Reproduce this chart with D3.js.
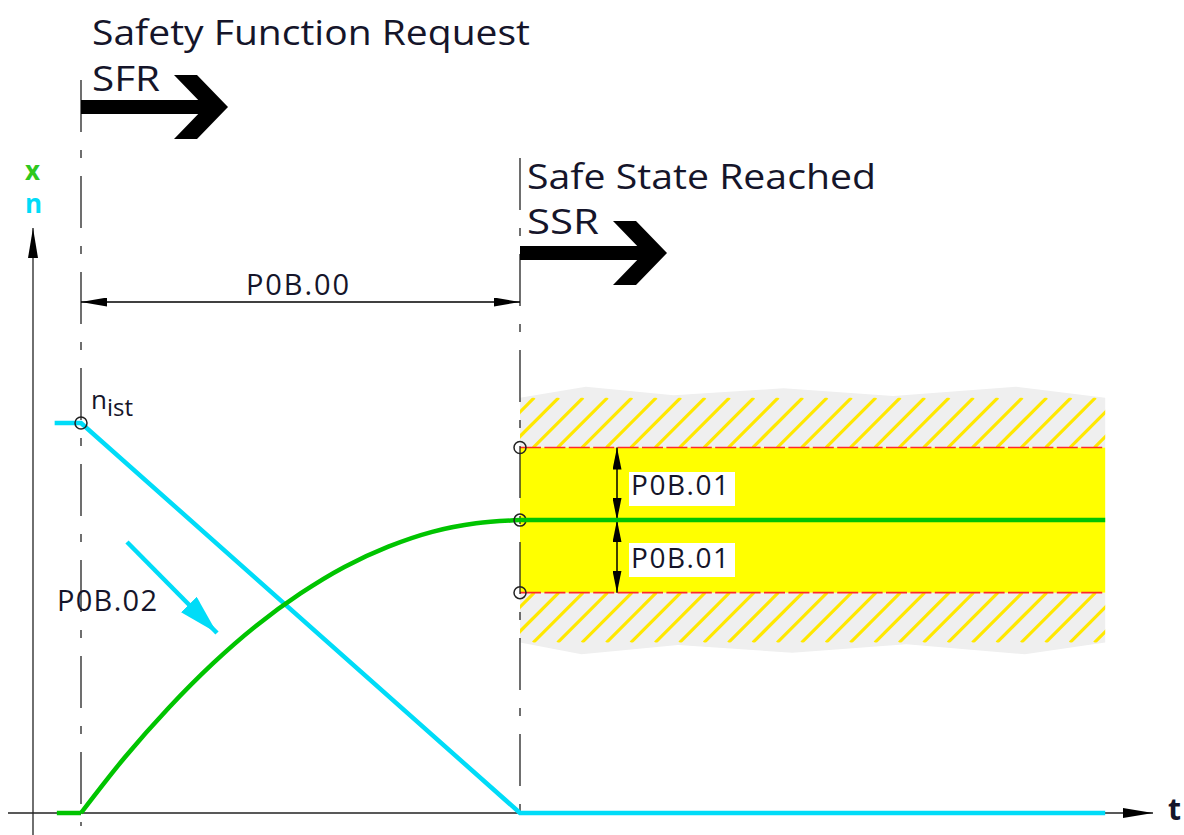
<!DOCTYPE html>
<html lang="en">
<head>
  <meta charset="UTF-8" />
  <title>Safety Function Request / Safe State Reached</title>
  <script src="https://d3js.org/d3.v7.min.js"></script>
  <style>
    body { margin: 0; background: white; }
    svg { display: block; }
    text { font-family: "Open Sans", sans-serif; fill: #15152a; }
  </style>
</head>
<body>
<div id="chart"></div>
<script>
// ---- data (time: 0 = SFR, 1 = SSR ; value: 1 = n_ist) ----
var speedT = [-0.06, 0, 1, 2.333];
var speedV = [1, 1, 0, 0];

// position before SFR (flat) and the approach curve after SFR
var posPreT = [-0.055, 0];
var posPreV = [0, 0];
var posT = [0, 0.1, 0.2, 0.3, 0.4, 0.5, 0.6, 0.7, 0.8, 0.9, 1];
var posV = [0, 0.143, 0.27, 0.383, 0.481, 0.563, 0.631, 0.683, 0.721, 0.743, 0.751];

var bandT = [1, 2.333];          // tolerance window start / end
var bandCenter = 0.751;
var bandTol = 0.186;             // P0B.01
var hatchDepth = 0.128;

// jagged grey border of the hatched area (t, offset above/below hatch)
var edgeTopT = [1, 1.15, 1.35, 1.6, 1.85, 2.13, 2.333];
var edgeTopV = [0, 0.028, 0.006, 0.024, 0.004, 0.028, 0];
var edgeBotT = [1, 1.14, 1.36, 1.62, 1.88, 2.15, 2.333];
var edgeBotV = [0, 0.03, 0.006, 0.026, 0.004, 0.03, 0];

var labels = {
  sfrTitle: "Safety Function Request", sfr: "SFR",
  ssrTitle: "Safe State Reached", ssr: "SSR",
  dimTime: "P0B.00", dimTol: "P0B.01", ramp: "P0B.02"
};

var W = 1184, H = 835;
var svg = d3.select("#chart").append("svg").attr("width", W).attr("height", H);

var x = d3.scaleLinear().domain([0, 1]).range([81, 520]);
var y = d3.scaleLinear().domain([0, 1]).range([813, 423]);

var defs = svg.append("defs");
function marker(id, color, len, half) {
  defs.append("marker").attr("id", id)
    .attr("viewBox", "0 0 " + len + " " + (half * 2))
    .attr("refX", len).attr("refY", half)
    .attr("markerWidth", len).attr("markerHeight", half * 2)
    .attr("markerUnits", "userSpaceOnUse")
    .attr("orient", "auto-start-reverse")
    .append("path").attr("d", "M0,0L" + len + "," + half + "L0," + (half * 2) + "Z")
    .attr("fill", color);
}
marker("arrBlack", "#000", 26, 4.5);
marker("arrAxis", "#000", 30, 5);
marker("arrTol", "#000", 22, 4.5);
marker("arrCyan", "#00dcf8", 40, 11);

// ---- tolerance band with hatching ----
var bx0 = x(bandT[0]), bx1 = x(bandT[1]);
var yUp = y(bandCenter + bandTol), yLo = y(bandCenter - bandTol);
var yUpOut = y(bandCenter + bandTol + hatchDepth), yLoOut = y(bandCenter - bandTol - hatchDepth);

var topPts = edgeTopT.map(function(t, i) { return [x(t), y(bandCenter + bandTol + hatchDepth + edgeTopV[i])]; });
var botPts = edgeBotT.map(function(t, i) { return [x(t), y(bandCenter - bandTol - hatchDepth - edgeBotV[i])]; });

svg.append("path")
  .attr("d", d3.line()([[bx0, yUp]].concat(topPts).concat([[bx1, yUp]])) + "Z")
  .attr("fill", "#efefef");
svg.append("path")
  .attr("d", d3.line()([[bx0, yLo]].concat(botPts).concat([[bx1, yLo]])) + "Z")
  .attr("fill", "#efefef");

defs.append("clipPath").attr("id", "clipTop").append("rect")
  .attr("x", bx0).attr("y", yUpOut).attr("width", bx1 - bx0).attr("height", yUp - yUpOut);
defs.append("clipPath").attr("id", "clipBot").append("rect")
  .attr("x", bx0).attr("y", yLo).attr("width", bx1 - bx0).attr("height", yLoOut - yLo);

var step = 24.4;
var starts = d3.range(bx0 - 60, bx1 + 10, step);
[["clipTop", yUp, yUpOut], ["clipBot", yLoOut, yLo]].forEach(function(c) {
  svg.append("g").attr("clip-path", "url(#" + c[0] + ")")
    .selectAll("line").data(starts).enter().append("line")
    .attr("x1", function(d) { return d; }).attr("y1", c[1])
    .attr("x2", function(d) { return d + (c[1] - c[2]); }).attr("y2", c[2])
    .attr("stroke", "#ffe800").attr("stroke-width", 3.2);
});

svg.append("rect")
  .attr("x", bx0).attr("y", yUp).attr("width", bx1 - bx0).attr("height", yLo - yUp)
  .attr("fill", "#ffff00");

[yUp, yLo].forEach(function(yy) {
  svg.append("line").attr("x1", bx0).attr("x2", bx1).attr("y1", yy).attr("y2", yy)
    .attr("stroke", "#ff2a2a").attr("stroke-width", 1.6)
    .attr("stroke-dasharray", "21,3.4");
});

// ---- axes ----
svg.append("line").attr("x1", 33).attr("x2", 33).attr("y1", 835).attr("y2", 228)
  .attr("stroke", "#222").attr("stroke-width", 1.3).attr("marker-end", "url(#arrAxis)");
svg.append("line").attr("x1", 8).attr("x2", 1153).attr("y1", y(0)).attr("y2", y(0))
  .attr("stroke", "#222").attr("stroke-width", 1.3).attr("marker-end", "url(#arrAxis)");
svg.append("text").attr("x", 1168).attr("y", 820).attr("font-size", 30).attr("font-weight", "bold").text("t");
svg.append("text").attr("x", 25).attr("y", 180).attr("font-size", 26).attr("font-weight", "bold")
  .style("fill", "#2ec81e").text("x");
svg.append("text").attr("x", 25).attr("y", 213).attr("font-size", 26).attr("font-weight", "bold")
  .style("fill", "#00dcf8").text("n");

// ---- dash-dot marker lines ----
[[x(0), 80], [x(1), 158]].forEach(function(m) {
  svg.append("line").attr("x1", m[0]).attr("x2", m[0]).attr("y1", m[1]).attr("y2", 826)
    .attr("stroke", "#222").attr("stroke-width", 1.3)
    .attr("stroke-dasharray", "52,18,8,18");
});

// ---- curves ----
var line = d3.line().x(function(d) { return x(d[0]); }).y(function(d) { return y(d[1]); });
function pairs(tt, vv) { return tt.map(function(t, i) { return [t, vv[i]]; }); }

svg.append("path").datum(pairs(speedT, speedV))
  .attr("d", line).attr("fill", "none").attr("stroke", "#00dcf8").attr("stroke-width", 4.5);
svg.append("path").datum(pairs(posPreT, posPreV))
  .attr("d", line).attr("fill", "none").attr("stroke", "#00c400").attr("stroke-width", 4.5);
svg.append("path").datum(pairs(posT, posV))
  .attr("d", line.curve(d3.curveMonotoneX))
  .attr("fill", "none").attr("stroke", "#00c400").attr("stroke-width", 4.5);

// ---- small circles ----
[[0, 1], [1, bandCenter + bandTol], [1, bandCenter], [1, bandCenter - bandTol]].forEach(function(p) {
  svg.append("circle").attr("cx", x(p[0])).attr("cy", y(p[1])).attr("r", 6)
    .attr("fill", "none").attr("stroke", "#222").attr("stroke-width", 1.5);
});

// n_ist
var nist = svg.append("text").attr("x", 91).attr("y", 409).attr("font-size", 26);
nist.append("tspan").text("n");
nist.append("tspan").attr("font-size", 24).attr("dy", 7).text("ist");

// ---- P0B.00 dimension ----
var dimY = 302;
svg.append("line").attr("x1", x(0)).attr("x2", x(1)).attr("y1", dimY).attr("y2", dimY)
  .attr("stroke", "#000").attr("stroke-width", 1.3)
  .attr("marker-start", "url(#arrBlack)").attr("marker-end", "url(#arrBlack)");
svg.append("text").attr("x", (x(0) + x(1)) / 2 - 3).attr("y", 295).attr("text-anchor", "middle")
  .attr("font-size", 29).attr("textLength", 103).text(labels.dimTime);

// ---- P0B.01 tolerance dimensions ----
var tolX = 617;
[[bandCenter, bandCenter + bandTol], [bandCenter, bandCenter - bandTol]].forEach(function(p) {
  svg.append("line").attr("x1", tolX).attr("x2", tolX).attr("y1", y(p[0])).attr("y2", y(p[1]))
    .attr("stroke", "#000").attr("stroke-width", 1.5)
    .attr("marker-start", "url(#arrTol)").attr("marker-end", "url(#arrTol)");
});
[[472, 495], [543, 568]].forEach(function(b) {
  svg.append("rect").attr("x", 629).attr("y", b[0]).attr("width", 106).attr("height", 34).attr("fill", "#fff");
  svg.append("text").attr("x", 631).attr("y", b[1]).attr("font-size", 28).attr("textLength", 98).text(labels.dimTol);
});

// green hold line over the band
svg.append("line").attr("x1", x(1)).attr("x2", x(bandT[1])).attr("y1", y(bandCenter)).attr("y2", y(bandCenter))
  .attr("stroke", "#00c400").attr("stroke-width", 4.5);

// ---- P0B.02 ramp ----
svg.append("text").attr("x", 57).attr("y", 611).attr("font-size", 29).attr("textLength", 100).text(labels.ramp);
svg.append("line").attr("x1", 127).attr("y1", 542).attr("x2", 217).attr("y2", 633)
  .attr("stroke", "#00dcf8").attr("stroke-width", 4.5).attr("marker-end", "url(#arrCyan)");

// ---- titles & big arrows ----
svg.append("text").attr("x", 92).attr("y", 45).attr("font-size", 35).attr("textLength", 438)
  .attr("lengthAdjust", "spacingAndGlyphs").text(labels.sfrTitle);
svg.append("text").attr("x", 92).attr("y", 91).attr("font-size", 35).attr("textLength", 68)
  .attr("lengthAdjust", "spacingAndGlyphs").text(labels.sfr);
svg.append("text").attr("x", 527).attr("y", 189).attr("font-size", 35).attr("textLength", 349)
  .attr("lengthAdjust", "spacingAndGlyphs").text(labels.ssrTitle);
svg.append("text").attr("x", 527).attr("y", 234).attr("font-size", 35).attr("textLength", 72)
  .attr("lengthAdjust", "spacingAndGlyphs").text(labels.ssr);

function bigArrow(x0, cy) {
  var g = svg.append("g");
  g.append("rect").attr("x", x0).attr("y", cy - 7).attr("width", 128).attr("height", 14).attr("fill", "#000");
  g.append("path").attr("fill", "#000").attr("d", d3.line()([
    [x0 + 93, cy - 32], [x0 + 116, cy - 32], [x0 + 147, cy],
    [x0 + 116, cy + 32], [x0 + 93, cy + 32], [x0 + 124, cy]
  ]) + "Z");
}
bigArrow(x(0), 107);
bigArrow(x(1), 253);
</script>
</body>
</html>
